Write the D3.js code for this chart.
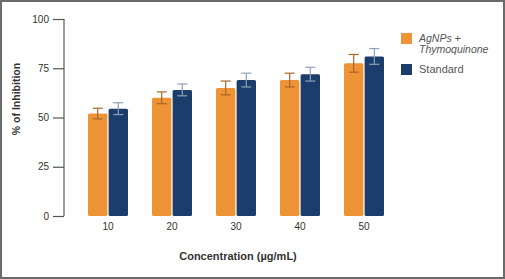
<!DOCTYPE html>
<html lang="en">
<head>
<meta charset="UTF-8">
<script src="https://d3js.org/d3.v7.min.js"></script>
<style>
    body { margin:0; background:#fff; }
    svg { display:block; font-family:"Liberation Sans", Arial, sans-serif; }
    .tick text { fill:#333; font-size:10px; }
</style>
</head>
<body>
<div id="container"></div>
<script>
    // data
    var categories = ["10","20","30","40","50"];
    var seriesNames = ["AgNPs + Thymoquinone","Standard"];
    var agnpsValues = [52,60,65,69,77.5];
    var agnpsErrors = [2.7,3,3.5,3.5,4.5];
    var standardValues = [54.5,64,69,72,81];
    var standardErrors = [3,3,3.5,3.5,4];
    var yTicks = [0,25,50,75,100];

    var width = 505, height = 279,
        margin = {top:19, left:64, right:140, bottom:63};

    var svg = d3.select("#container").append("svg")
        .attr("width", width).attr("height", height);

    // frame
    svg.append("rect").attr("x",1).attr("y",1).attr("width",width-2).attr("height",height-2)
        .attr("fill","none").attr("stroke","#6b6b6b").attr("stroke-width",2);

    var g = svg.append("g").attr("transform",`translate(${margin.left},${margin.top})`);
    var gw = width - margin.left - margin.right,
        gh = height - margin.top - margin.bottom;

    var x0 = d3.scaleBand().domain(categories).range([12, 12 + 64*5]).paddingInner(0.375).paddingOuter(0.1875);
    var x1 = d3.scaleBand().domain(seriesNames).range([0, x0.bandwidth()]).paddingInner(0.06);
    var y = d3.scaleLinear().domain([0,100]).range([gh,0]);

    var colors = ["#ef9436","#1b3d6b"];
    var errColors = ["#a8652b","#8fa0b5"];

    var series = [
        {name:seriesNames[0], values:agnpsValues, errors:agnpsErrors},
        {name:seriesNames[1], values:standardValues, errors:standardErrors}
    ];

    series.forEach(function(s, si){
        var rows = categories.map(function(c,i){ return {c:c, v:s.values[i], e:s.errors[i]}; });
        var sg = g.append("g");
        sg.selectAll("rect").data(rows).enter().append("rect")
            .attr("x", d => x0(d.c) + x1(s.name))
            .attr("y", d => y(d.v))
            .attr("width", x1.bandwidth())
            .attr("height", d => gh - y(d.v))
            .attr("rx", 1.5)
            .attr("fill", colors[si]);
        var eg = sg.selectAll("g.err").data(rows).enter().append("g")
            .attr("stroke", errColors[si]).attr("stroke-width", 1.2);
        eg.append("line")
            .attr("x1", d => x0(d.c) + x1(s.name) + x1.bandwidth()/2)
            .attr("x2", d => x0(d.c) + x1(s.name) + x1.bandwidth()/2)
            .attr("y1", d => y(d.v + d.e)).attr("y2", d => y(d.v - d.e));
        [1,-1].forEach(function(sign){
            eg.append("line")
                .attr("x1", d => x0(d.c) + x1(s.name) + x1.bandwidth()/2 - 5)
                .attr("x2", d => x0(d.c) + x1(s.name) + x1.bandwidth()/2 + 5)
                .attr("y1", d => y(d.v + sign*d.e)).attr("y2", d => y(d.v + sign*d.e));
        });
    });

    // y axis
    var yAxis = g.append("g").call(d3.axisLeft(y).tickValues(yTicks).tickSize(11).tickPadding(4));
    yAxis.select(".domain").attr("stroke","#555").attr("stroke-width",1.2).attr("d",`M0,${gh}V0`);
    yAxis.selectAll(".tick line").attr("stroke","#555").attr("stroke-width",1.2);

    // x axis labels only
    var xAxis = g.append("g").attr("transform",`translate(0,${gh})`)
        .call(d3.axisBottom(x0).tickSize(0).tickPadding(7));
    xAxis.select(".domain").remove();

    // titles
    svg.append("text").attr("x", 238).attr("y", 260).attr("text-anchor","middle")
        .attr("font-size",11).attr("font-weight","bold").attr("fill","#333")
        .text("Concentration (µg/mL)");
    svg.append("text").attr("transform","translate(20,99) rotate(-90)").attr("text-anchor","middle")
        .attr("font-size",10.5).attr("font-weight","bold").attr("fill","#333")
        .text("% of Inhibition");

    // legend
    var lg = svg.append("g").attr("transform","translate(401,33)");
    lg.append("rect").attr("width",11).attr("height",11).attr("fill",colors[0]);
    lg.append("text").attr("x",18).attr("y",9).attr("font-size",10.5).attr("font-style","italic").attr("fill","#555").text("AgNPs +");
    lg.append("text").attr("x",18).attr("y",20).attr("font-size",10.5).attr("font-style","italic").attr("fill","#555").text("Thymoquinone");
    lg.append("rect").attr("y",31).attr("width",11).attr("height",11).attr("fill",colors[1]);
    lg.append("text").attr("x",18).attr("y",40).attr("font-size",11).attr("fill","#555").text("Standard");
</script>
</body>
</html>
